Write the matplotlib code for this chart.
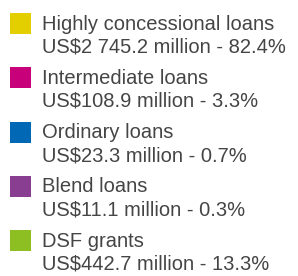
import matplotlib.pyplot as plt
from matplotlib.patches import Rectangle

labels = ["Highly concessional loans", "Intermediate loans", "Ordinary loans",
          "Blend loans", "DSF grants"]
amounts = ["2 745.2", "108.9", "23.3", "11.1", "442.7"]
shares = [82.4, 3.3, 0.7, 0.3, 13.3]
colors = ["#E3CF00", "#C8007A", "#0068B4", "#8A3E92", "#8DBE22"]

W, H = 298, 276
fig = plt.figure(figsize=(W / 100, H / 100), dpi=100)
ax = fig.add_axes([0, 0, 1, 1])
ax.set_xlim(0, W)
ax.set_ylim(H, 0)
ax.axis("off")

top, step, size = 13, 54.3, 21
for i, (lab, amt, sh, col) in enumerate(zip(labels, amounts, shares, colors)):
    y = top + i * step
    ax.add_patch(Rectangle((10, y), size, size, color=col, lw=0))
    ax.text(42, y + 11, lab, fontsize=14.5, color="#454545",
            family="Liberation Sans", va="center")
    ax.text(42, y + 34, f"US${amt} million - {sh}%", fontsize=14.5,
            color="#454545", family="Liberation Sans", va="center")

fig.savefig("out.png", dpi=100)
